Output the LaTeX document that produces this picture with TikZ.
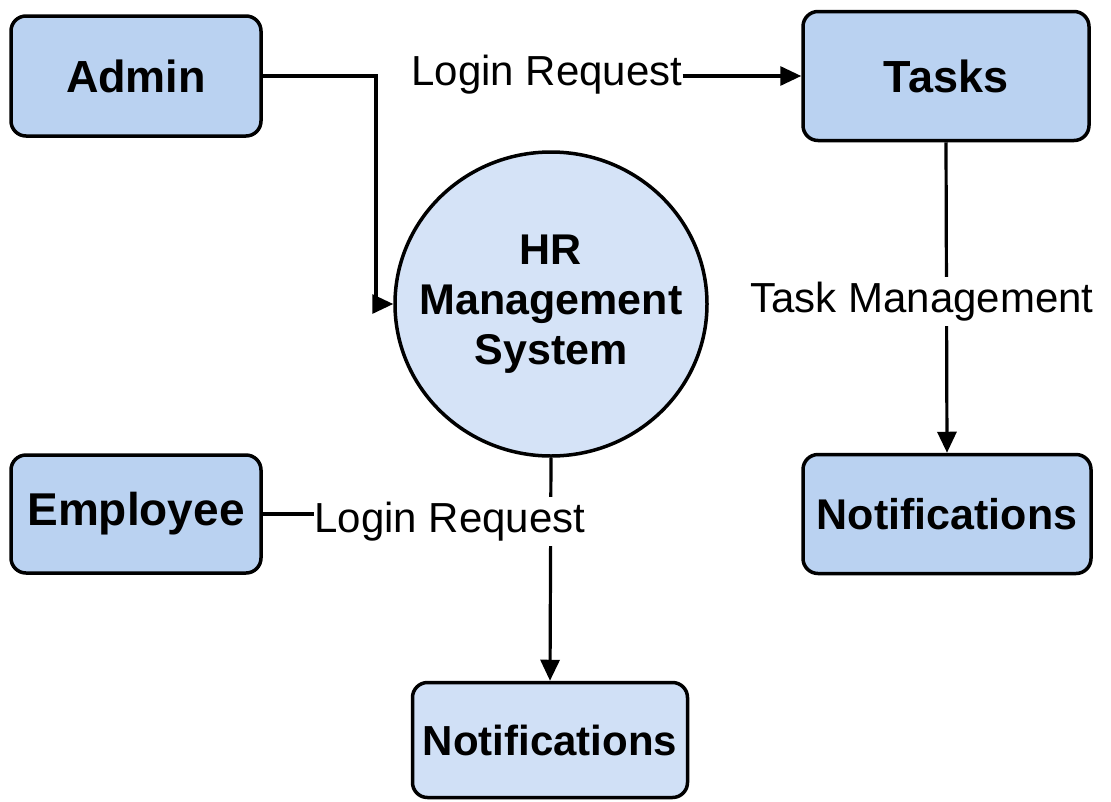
\documentclass[tikz,border=0pt]{standalone}
\usepackage{fontspec}
\setmainfont{Liberation Sans}
\usetikzlibrary{arrows.meta,shapes.geometric}
\definecolor{boxblue}{RGB}{186,210,241}
\definecolor{circblue}{RGB}{213,227,247}
\definecolor{lightbox}{RGB}{208,224,246}
\begin{document}
\begin{tikzpicture}[x=1pt,y=-1pt,
  ent/.style={draw=black,line width=3.5pt,rounded corners=15pt,fill=boxblue,
    font=\bfseries\fontsize{45}{50}\selectfont,inner sep=0pt},
  hub/.style={ellipse,draw=black,line width=3.5pt,fill=circblue,inner sep=0pt},
  hubtext/.style={align=center,font=\bfseries\fontsize{43}{50}\selectfont,inner sep=0pt},
  lab/.style={font=\fontsize{42}{46}\selectfont,fill=white,inner xsep=0pt,inner ysep=5pt},
  conn/.style={line width=3.2pt,-{Triangle[length=21pt,width=19pt]}},
  wire/.style={line width=3.2pt}]
\useasboundingbox (0,0) rectangle (1111,801);
\fill[white] (0,0) rectangle (1111,801);

% entities
\node[ent,minimum width=250pt,minimum height=120pt] (admin) at (136,76) {Admin};
\node[ent,minimum width=286pt,minimum height=129pt] (tasks) at (946,76) {Tasks};
\node[ent,minimum width=250pt,minimum height=118pt] (employee) at (136,514) {\fontsize{46}{50}\selectfont Employee};
\node[ent,minimum width=288pt,minimum height=119pt] (notifr) at (947,514) {\fontsize{43}{50}\selectfont Notifications};
\node[ent,fill=lightbox,minimum width=275pt,minimum height=115pt] (notifb) at (550,740) {\fontsize{42}{50}\selectfont Notifications};
\node[hub,minimum width=312pt,minimum height=304pt] (hr) at (551,304) {};
\node[hubtext] (hrtext) at (hr.center) {HR\\Management\\System};

% Admin to HR
\coordinate (bend) at (376,76);
\draw[conn] (admin.east) -- (bend) |- (hr.west);

% Login Request -> Tasks
\node[lab,anchor=base] (lr1) at (547,85) {Login Request};
\draw[conn] (lr1.east |- tasks.west) -- (tasks.west);

% Tasks -> Notifications (right)
\draw[conn] (tasks.south) -- (notifr.north);
\node[lab,anchor=base] (tm) at (922,312) {Task Management};

% HR -> Notifications (bottom)
\draw[conn] (hr.south) -- (notifb.north);
\node[lab,anchor=base] (lr2) at (450,532) {Login Request};

% Employee -- Login Request
\draw[wire] (employee.east) -- (lr2.west |- employee.east);
\end{tikzpicture}
\end{document}
